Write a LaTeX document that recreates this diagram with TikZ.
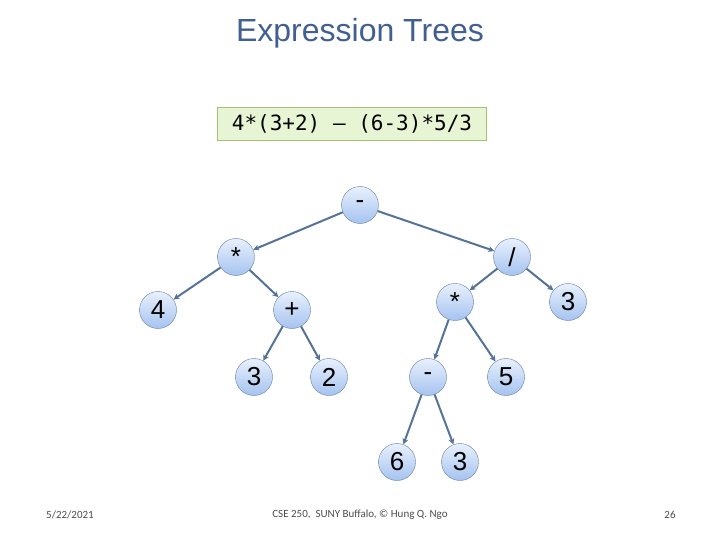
\documentclass[tikz,border=0pt]{standalone}
\usepackage{fontspec}
\setmainfont{Liberation Sans}
\newfontfamily\calfnt{Carlito}
\newfontfamily\monofnt{DejaVu Sans Mono}
\usetikzlibrary{arrows.meta,shadings}
\definecolor{titc}{RGB}{65,95,145}
\definecolor{edgec}{RGB}{85,115,150}
\definecolor{nb}{RGB}{100,125,165}
\definecolor{ntop}{RGB}{232,240,252}
\definecolor{nbot}{RGB}{165,195,240}
\definecolor{boxf}{RGB}{232,245,212}
\definecolor{boxd}{RGB}{160,195,110}
\begin{document}
\begin{tikzpicture}[x=1pt,y=-1pt,
  tn/.style={circle,draw=nb,minimum size=37pt,inner sep=0pt,top color=ntop,bottom color=nbot,font=\fontsize{26}{28}\selectfont},
  ed/.style={draw=edgec,line width=2pt,-{Stealth[length=6pt,width=6pt]}}]
\useasboundingbox (0,0) rectangle (720,540);
\node[font=\fontsize{32}{36}\selectfont,text=titc] (title) at (360,33) {Expression Trees};
\node[draw=boxd,fill=boxf,minimum width=269pt,minimum height=33pt,font=\monofnt\fontsize{21}{24}\selectfont] (expr) at (352,124) {4*(3+2) – (6-3)*5/3};
\node[tn] (m) at (360,205) {-};
\node[tn] (t1) at (236,257) {*};
\node[tn] (d) at (512,257) {/};
\node[tn] (n4) at (158,310) {4};
\node[tn] (p) at (292,310) {+};
\node[tn] (t2) at (455,302) {*};
\node[tn] (n3a) at (568,302) {3};
\node[tn] (n3b) at (254,377) {3};
\node[tn] (n2) at (329,377) {2};
\node[tn] (m2) at (428,377) {-};
\node[tn] (n5) at (506,377) {5};
\node[tn] (n6) at (397,462) {6};
\node[tn] (n3c) at (460,462) {3};
\foreach \a/\b in {m/t1,m/d,t1/n4,t1/p,p/n3b,p/n2,d/t2,d/n3a,t2/m2,t2/n5,m2/n6,m2/n3c}
  \draw[ed] (\a) -- (\b);
\node[font=\calfnt\fontsize{11}{13}\selectfont,text=black!70] (date) at (70,515) {5/22/2021};
\node[font=\calfnt\fontsize{11}{13}\selectfont,text=black!70] (foot) at (360,515) {CSE 250, \ SUNY Buffalo, © Hung Q. Ngo};
\node[font=\calfnt\fontsize{11}{13}\selectfont,text=black!70] (pg) at (670,515) {26};
\end{tikzpicture}
\end{document}
